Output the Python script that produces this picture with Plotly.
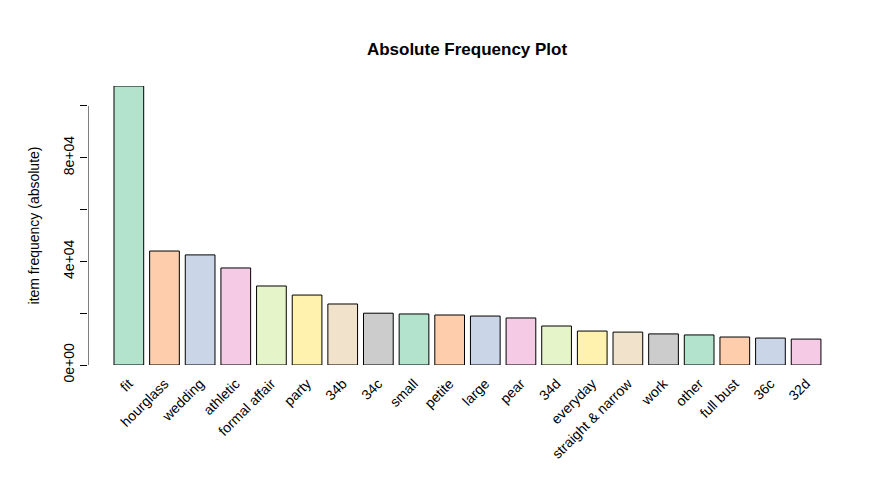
import plotly.graph_objects as go

items = ["fit", "hourglass", "wedding", "athletic", "formal affair", "party", "34b", "34c",
         "small", "petite", "large", "pear", "34d", "everyday", "straight & narrow", "work",
         "other", "full bust", "36c", "32d"]
freq = [107700, 44000, 42500, 37450, 30500, 27000, 23550, 20000, 19700, 19300,
        18900, 18150, 15050, 13100, 12700, 12000, 11600, 10800, 10400, 10000]
palette = ["#B3E2CD", "#FDCDAC", "#CBD5E8", "#F4CAE4", "#E6F5C9", "#FFF2AE", "#F1E2CC", "#CCCCCC"]
ytick_vals = [0, 20000, 40000, 60000, 80000, 100000]
ytick_text = ["0e+00", "", "4e+04", "", "8e+04", ""]

# R barplot positions: width 1, space 0.2
xpos = [0.7 + 1.2 * i for i in range(len(items))]
colors = [palette[i % len(palette)] for i in range(len(items))]

fig = go.Figure(go.Bar(
    x=xpos, y=freq, width=1.0,
    marker=dict(color=colors, line=dict(color="black", width=1)),
))

font = "Liberation Sans, Arial, sans-serif"
fig.update_layout(
    width=881, height=491,
    margin=dict(l=80, r=48, t=78, b=134),
    plot_bgcolor="white", paper_bgcolor="white",
    showlegend=False,
    font=dict(family=font, size=14, color="black"),
    title=dict(text="<b>Absolute Frequency Plot</b>", x=0.521, xanchor="center",
               y=0.917, yanchor="middle", font=dict(size=17)),
    xaxis=dict(range=[-0.675, 24.675], tickvals=xpos, ticktext=items, tickangle=-45,
               showgrid=False, zeroline=False, showline=False, ticks="outside",
               ticklen=4, tickcolor="white", automargin=False,
               tickfont=dict(size=14)),
    yaxis=dict(range=[0, 107700], tickvals=ytick_vals, ticktext=ytick_text, tickangle=-90,
               ticks="outside", ticklen=7, tickcolor="black", showgrid=False,
               zeroline=False, showline=False, automargin=False,
               tickfont=dict(size=14),
               title=dict(text="item frequency (absolute)", standoff=18, font=dict(size=14))),
)
fig.add_shape(type="line", xref="x", yref="y", x0=-0.675, x1=-0.675, y0=0, y1=100000,
              line=dict(color="black", width=1))

fig.write_html("out.html")
